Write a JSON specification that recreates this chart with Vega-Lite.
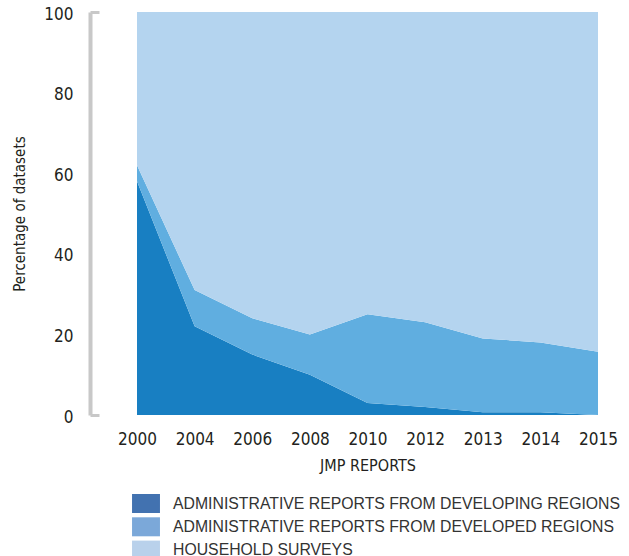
{
  "$schema": "https://vega.github.io/schema/vega-lite/v6.json",
  "width": 461,
  "height": 403,
  "autosize": "none",
  "padding": {"left": 137, "top": 12, "right": 31, "bottom": 141},
  "background": "white",
  "config": {"view": {"stroke": null}, "font": "DejaVu Sans Condensed, Liberation Sans, sans-serif"},
  "data": {
    "values": [
      {"report": "2000", "source": "ADMINISTRATIVE REPORTS FROM DEVELOPING REGIONS", "value": 58},
      {"report": "2000", "source": "ADMINISTRATIVE REPORTS FROM DEVELOPED REGIONS", "value": 4},
      {"report": "2000", "source": "HOUSEHOLD SURVEYS", "value": 38},
      {"report": "2004", "source": "ADMINISTRATIVE REPORTS FROM DEVELOPING REGIONS", "value": 22},
      {"report": "2004", "source": "ADMINISTRATIVE REPORTS FROM DEVELOPED REGIONS", "value": 9},
      {"report": "2004", "source": "HOUSEHOLD SURVEYS", "value": 69},
      {"report": "2006", "source": "ADMINISTRATIVE REPORTS FROM DEVELOPING REGIONS", "value": 15},
      {"report": "2006", "source": "ADMINISTRATIVE REPORTS FROM DEVELOPED REGIONS", "value": 9},
      {"report": "2006", "source": "HOUSEHOLD SURVEYS", "value": 76},
      {"report": "2008", "source": "ADMINISTRATIVE REPORTS FROM DEVELOPING REGIONS", "value": 10},
      {"report": "2008", "source": "ADMINISTRATIVE REPORTS FROM DEVELOPED REGIONS", "value": 10},
      {"report": "2008", "source": "HOUSEHOLD SURVEYS", "value": 80},
      {"report": "2010", "source": "ADMINISTRATIVE REPORTS FROM DEVELOPING REGIONS", "value": 3},
      {"report": "2010", "source": "ADMINISTRATIVE REPORTS FROM DEVELOPED REGIONS", "value": 22},
      {"report": "2010", "source": "HOUSEHOLD SURVEYS", "value": 75},
      {"report": "2012", "source": "ADMINISTRATIVE REPORTS FROM DEVELOPING REGIONS", "value": 2},
      {"report": "2012", "source": "ADMINISTRATIVE REPORTS FROM DEVELOPED REGIONS", "value": 21},
      {"report": "2012", "source": "HOUSEHOLD SURVEYS", "value": 77},
      {"report": "2013", "source": "ADMINISTRATIVE REPORTS FROM DEVELOPING REGIONS", "value": 0.7},
      {"report": "2013", "source": "ADMINISTRATIVE REPORTS FROM DEVELOPED REGIONS", "value": 18.3},
      {"report": "2013", "source": "HOUSEHOLD SURVEYS", "value": 81},
      {"report": "2014", "source": "ADMINISTRATIVE REPORTS FROM DEVELOPING REGIONS", "value": 0.7},
      {"report": "2014", "source": "ADMINISTRATIVE REPORTS FROM DEVELOPED REGIONS", "value": 17.3},
      {"report": "2014", "source": "HOUSEHOLD SURVEYS", "value": 82},
      {"report": "2015", "source": "ADMINISTRATIVE REPORTS FROM DEVELOPING REGIONS", "value": 0},
      {"report": "2015", "source": "ADMINISTRATIVE REPORTS FROM DEVELOPED REGIONS", "value": 15.7},
      {"report": "2015", "source": "HOUSEHOLD SURVEYS", "value": 84.3}
    ]
  },
  "transform": [
    {"calculate": "indexof(['ADMINISTRATIVE REPORTS FROM DEVELOPING REGIONS', 'ADMINISTRATIVE REPORTS FROM DEVELOPED REGIONS', 'HOUSEHOLD SURVEYS'], datum.source)", "as": "stackRank"}
  ],
  "encoding": {
    "x": {
      "field": "report",
      "type": "ordinal",
      "scale": {"type": "point", "padding": 0},
      "axis": {
        "title": "JMP REPORTS",
        "labelAngle": 0,
        "domain": false,
        "ticks": false,
        "labelFontSize": 17,
        "labelColor": "#231f20",
        "labelPadding": 16,
        "titleFontSize": 16,
        "titleFontWeight": "normal",
        "titleColor": "#231f20",
        "titlePadding": 10
      }
    }
  },
  "layer": [
    {
      "mark": {"type": "area", "interpolate": "linear"},
      "encoding": {
        "y": {
          "field": "value",
          "type": "quantitative",
          "stack": "zero",
          "scale": {"domain": [0, 100], "nice": false},
          "axis": {
            "title": "Percentage of datasets",
            "values": [0, 20, 40, 60, 80, 100],
            "grid": false,
            "offset": 47,
            "domainColor": "#c8c8c8",
            "domainWidth": 4,
            "tickColor": "#c8c8c8",
            "tickWidth": 3,
            "tickSize": -9,
            "tickOpacity": {"condition": {"test": "datum.value == 0 || datum.value == 100", "value": 1}, "value": 0},
            "labelPadding": 26,
            "labelFontSize": 17,
            "labelColor": "#231f20",
            "labelOffset": 2,
            "titleFontSize": 15,
            "titleFontWeight": "normal",
            "titleColor": "#231f20",
            "titlePadding": 16
          }
        },
        "order": {"field": "stackRank", "type": "quantitative", "sort": "ascending"},
        "fill": {
          "field": "source",
          "type": "nominal",
          "scale": {
            "domain": ["HOUSEHOLD SURVEYS", "ADMINISTRATIVE REPORTS FROM DEVELOPED REGIONS", "ADMINISTRATIVE REPORTS FROM DEVELOPING REGIONS"],
            "range": ["#b4d4ef", "#60aee0", "#187fc2"]
          },
          "legend": null
        }
      }
    },
    {
      "mark": {"type": "point", "filled": true, "size": 0},
      "encoding": {
        "y": {"field": "value", "type": "quantitative"},
        "color": {
          "field": "source",
          "type": "nominal",
          "sort": ["ADMINISTRATIVE REPORTS FROM DEVELOPING REGIONS", "ADMINISTRATIVE REPORTS FROM DEVELOPED REGIONS", "HOUSEHOLD SURVEYS"],
          "scale": {
            "domain": ["ADMINISTRATIVE REPORTS FROM DEVELOPING REGIONS", "ADMINISTRATIVE REPORTS FROM DEVELOPED REGIONS", "HOUSEHOLD SURVEYS"],
            "range": ["#4272b0", "#7ba8d9", "#b9d1eb"]
          },
          "legend": {
            "orient": "none",
            "legendX": -0.5,
            "legendY": 482,
            "direction": "vertical",
            "title": null,
            "padding": 0,
            "symbolType": "M-1.47,-1L1.47,-1L1.47,1L-1.47,1Z",
            "symbolSize": 361,
            "symbolStrokeWidth": 0,
            "symbolOpacity": 1,
            "labelFont": "Liberation Sans",
            "labelFontSize": 15.8,
            "labelColor": "#333333",
            "labelOffset": 17.5,
            "labelLimit": 600,
            "rowPadding": 4.3
          }
        }
      }
    }
  ]
}
